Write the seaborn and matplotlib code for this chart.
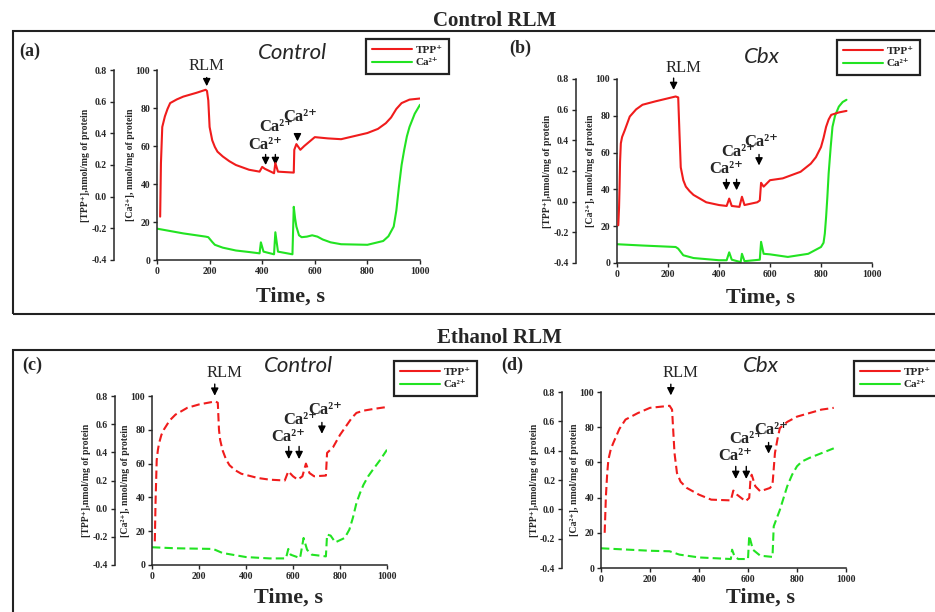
"""
plot.py

TPP+ and Ca2+ traces of control and ethanol RLM (control vs Cbx),
four panels with a second (TPP+) axis offset on the left of each.
"""

import matplotlib
matplotlib.use("Agg")
import matplotlib.pyplot as plt
import matplotlib.patches as mpatches
from matplotlib.lines import Line2D
from matplotlib.ticker import FormatStrFormatter
import pandas as pd
import seaborn as sns

# ---- values ----
# (a) control RLM, Control
A_TPP_T = [12, 15, 20, 30, 40, 50, 75, 100, 150, 185, 190, 195, 200, 210, 220, 230,
           250, 275, 300, 350, 390, 400, 410, 445, 450, 460, 520, 522, 530, 545,
           560, 600, 650, 700, 800, 840, 870, 890, 910, 930, 960, 1000]
A_TPP = [-0.126, 0.212, 0.44, 0.507, 0.554, 0.591, 0.614, 0.632, 0.656, 0.675,
         0.668, 0.608, 0.44, 0.356, 0.314, 0.284, 0.254, 0.224, 0.2, 0.17, 0.158,
         0.188, 0.176, 0.148, 0.212, 0.158, 0.152, 0.296, 0.332, 0.296, 0.32,
         0.376, 0.368, 0.363, 0.402, 0.428, 0.464, 0.5, 0.554, 0.591, 0.613, 0.62]
A_CA_T = [0, 100, 185, 195, 210, 220, 250, 300, 350, 390, 395, 405, 445, 450, 460,
          515, 520, 525, 530, 540, 550, 570, 590, 610, 630, 660, 700, 800, 860,
          880, 900, 910, 920, 930, 940, 950, 960, 980, 1000]
A_CA = [16.5, 14, 12.3, 12, 9.5, 8, 6.5, 5, 4.2, 3.5, 9.3, 4.4, 3, 14.6, 4.4, 3,
        28, 22, 17.6, 13, 12, 12.3, 13, 12.3, 10.8, 9.3, 8.3, 8, 10, 12.5, 17.6,
        26, 38.7, 50, 58, 65, 70, 77, 81.7]

# (b) control RLM, Cbx
B_TPP_T = [5, 8, 10, 12, 15, 20, 30, 50, 75, 100, 150, 200, 230, 240, 245, 250,
           260, 270, 285, 300, 350, 400, 430, 440, 450, 480, 490, 500, 550, 560,
           565, 575, 600, 650, 720, 760, 780, 800, 810, 820, 830, 840, 870, 900]
B_TPP = [-0.154, -0.04, 0.092, 0.26, 0.38, 0.422, 0.464, 0.555, 0.602, 0.632,
         0.654, 0.674, 0.686, 0.68, 0.446, 0.224, 0.14, 0.098, 0.068, 0.044,
         -0.004, -0.022, -0.028, 0.02, -0.028, -0.034, 0.032, -0.022, -0.004,
         0.008, 0.123, 0.098, 0.14, 0.152, 0.195, 0.248, 0.29, 0.356, 0.416,
         0.488, 0.536, 0.566, 0.582, 0.592]
B_CA_T = [0, 100, 230, 240, 260, 300, 400, 430, 440, 450, 485, 490, 500, 560, 565,
          575, 600, 670, 750, 800, 810, 815, 820, 825, 830, 838, 845, 855, 870,
          885, 900]
B_CA = [10.2, 9.5, 8.7, 7.8, 4.2, 2.7, 1.5, 1.5, 5.8, 1.8, 0.5, 5, 1, 1.8, 11.5,
        5, 4.7, 3.3, 5, 8.7, 11, 16, 25, 36, 48.7, 63, 74, 80, 85, 87.5, 88.7]

# (c) ethanol RLM, Control
C_TPP_T = [12, 15, 20, 25, 30, 40, 50, 75, 100, 150, 200, 270, 280, 285, 290, 300,
           315, 330, 355, 380, 450, 500, 565, 580, 600, 620, 640, 655, 670, 690,
           740, 745, 770, 800, 830, 850, 870, 900, 950, 1000]
C_TPP = [-0.232, 0.04, 0.344, 0.416, 0.464, 0.524, 0.56, 0.626, 0.668, 0.716,
         0.74, 0.762, 0.752, 0.56, 0.488, 0.416, 0.35, 0.308, 0.272, 0.248, 0.218,
         0.206, 0.2, 0.265, 0.23, 0.206, 0.23, 0.32, 0.253, 0.23, 0.235, 0.396,
         0.435, 0.524, 0.596, 0.644, 0.68, 0.696, 0.71, 0.722]
C_CA_T = [0, 100, 260, 300, 400, 500, 570, 580, 590, 630, 645, 660, 680, 740, 745,
          760, 780, 820, 840, 855, 870, 885, 900, 920, 940, 970, 1000]
C_CA = [10.5, 9.9, 9.5, 7.1, 4.7, 3.9, 3.9, 9.5, 6.1, 4.1, 16, 9, 6.1, 5.1, 18,
        17.4, 13.4, 16, 21, 28, 36.7, 42.5, 47.5, 52.5, 56.4, 62, 68.2]

# (d) ethanol RLM, Cbx
D_TPP_T = [15, 20, 25, 30, 40, 50, 75, 100, 150, 200, 280, 290, 300, 310, 325, 350,
           400, 450, 530, 540, 555, 590, 605, 610, 615, 630, 650, 690, 700, 710,
           720, 730, 760, 800, 900, 950]
D_TPP = [-0.16, 0.088, 0.236, 0.338, 0.41, 0.452, 0.548, 0.612, 0.656, 0.692,
         0.706, 0.68, 0.384, 0.248, 0.188, 0.146, 0.1, 0.066, 0.061, 0.128, 0.1,
         0.055, 0.078, 0.2, 0.236, 0.157, 0.123, 0.146, 0.168, 0.384, 0.476,
         0.554, 0.596, 0.632, 0.68, 0.692]
D_CA_T = [0, 200, 280, 320, 400, 530, 535, 545, 560, 600, 605, 620, 650, 700, 705,
          730, 760, 780, 800, 820, 850, 950]
D_CA = [11.2, 9.8, 9.5, 7.6, 6, 5.1, 10.4, 6.6, 5.1, 5.1, 18.4, 10.4, 7, 6.3,
        23.7, 33, 46.4, 53, 57.8, 60.5, 62.5, 68]

RED = "#f01c1c"
GREEN = "#22e322"
SERIF = ["Liberation Serif", "DejaVu Serif"]
W, H = 935, 612


def fx(px):
    return px / W


def fy(py):
    return 1 - py / H


# layout of each panel, in pixels of the 935x612 picture
PANELS = [
    dict(tpp_t=A_TPP_T, tpp=A_TPP, ca_t=A_CA_T, ca=A_CA, dashed=False,
         box=(157, 70, 420, 260), offset=31, tag="(a)", tag_xy=(30, 51),
         title="Control", title_xy=(292, 53), xlab_xy=(290, 297), leg_xy=(366, 39),
         rlm_text=(189, 102), rlm_arrow=(189, 97.5, 90),
         ca_text=[(410, 60.6), (455, 70), (543, 75.5)],
         ca_arrow=[(413, 57, 48.5), (450, 57, 48.5), (534, 68, 61)]),
    dict(tpp_t=B_TPP_T, tpp=B_TPP, ca_t=B_CA_T, ca=B_CA, dashed=False,
         box=(617, 79, 872, 263), offset=29.5, tag="(b)", tag_xy=(520, 48),
         title="Cbx", title_xy=(762, 57), xlab_xy=(761, 298), leg_xy=(837, 40),
         rlm_text=(259, 106), rlm_arrow=(222, 102, 92.5),
         ca_text=[(429, 51), (474, 60.5), (566, 66)],
         ca_arrow=[(429, 47, 38), (469, 47, 38), (557, 60.5, 51.5)]),
    dict(tpp_t=C_TPP_T, tpp=C_TPP, ca_t=C_CA_T, ca=C_CA, dashed=True,
         box=(152, 396, 387, 565), offset=27, tag="(c)", tag_xy=(32, 365),
         title="Control", title_xy=(298, 366), xlab_xy=(288, 598), leg_xy=(394, 361),
         rlm_text=(310, 113.6), rlm_arrow=(267, 108.7, 98.5),
         ca_text=[(580, 75.7), (630, 86), (737, 92)],
         ca_arrow=[(582, 71.8, 61), (626, 71.8, 61), (723, 86, 76)]),
    dict(tpp_t=D_TPP_T, tpp=D_TPP, ca_t=D_CA_T, ca=D_CA, dashed=True,
         box=(601, 392, 846, 568), offset=28, tag="(d)", tag_xy=(512, 365),
         title="Cbx", title_xy=(761, 366), xlab_xy=(761, 598), leg_xy=(854, 361),
         rlm_text=(323, 110.8), rlm_arrow=(285, 106, 96.5),
         ca_text=[(548, 63.4), (593, 73.3), (695, 78.6)],
         ca_arrow=[(550, 59.3, 49), (593, 59.3, 49), (684, 72.9, 63.4)]),
]


def draw_panel(fig, p):
    x0, y0, x1, y1 = p["box"]
    ax = fig.add_axes([fx(x0), fy(y1), fx(x1) - fx(x0), fy(y0) - fy(y1)])
    axt = ax.twinx()
    style = (0, (4, 2)) if p["dashed"] else "-"

    ca = pd.DataFrame({"time": p["ca_t"], "value": p["ca"]})
    tpp = pd.DataFrame({"time": p["tpp_t"], "value": p["tpp"]})
    sns.lineplot(data=ca, x="time", y="value", ax=ax, color=GREEN, lw=1.5,
                 estimator=None, sort=False, linestyle=style)
    sns.lineplot(data=tpp, x="time", y="value", ax=axt, color=RED, lw=1.5,
                 estimator=None, sort=False, linestyle=style)

    ax.set_xlim(0, 1000)
    ax.set_ylim(0, 100)
    axt.set_ylim(-0.4, 0.8)
    ax.set_xticks(range(0, 1001, 200))
    ax.set_yticks(range(0, 101, 20))
    axt.set_yticks([-0.4, -0.2, 0.0, 0.2, 0.4, 0.6, 0.8])
    axt.yaxis.set_major_formatter(FormatStrFormatter("%.1f"))

    for a in (ax, axt):
        for side in ("top", "right"):
            a.spines[side].set_visible(False)
        a.tick_params(length=3, width=1, pad=2, labelsize=7)
    axt.spines["bottom"].set_visible(False)
    axt.yaxis.tick_left()
    axt.yaxis.set_label_position("left")
    axt.spines["left"].set_visible(True)
    axt.spines["left"].set_position(("outward", p["offset"]))

    ax.set_xlabel("")
    ax.set_ylabel("[Ca²⁺], nmol/mg of protein", fontsize=7, labelpad=0)
    axt.set_ylabel("[TPP⁺],nmol/mg of protein", fontsize=7, labelpad=1)

    # additions: RLM and three Ca2+ pulses
    arrow = dict(arrowstyle="-|>", color="black", lw=1, mutation_scale=11)
    ax.text(*p["rlm_text"], "RLM", ha="center", va="center", fontsize=12,
            fontweight="normal")
    t, v0, v1 = p["rlm_arrow"]
    ax.annotate("", xy=(t, v1), xytext=(t, v0), arrowprops=arrow,
                annotation_clip=False)
    for tx, ty in p["ca_text"]:
        ax.text(tx, ty, "Ca²⁺", ha="center", va="center", fontsize=12)
    for t, v0, v1 in p["ca_arrow"]:
        ax.annotate("", xy=(t, v1), xytext=(t, v0), arrowprops=arrow,
                    annotation_clip=False)

    handles = [Line2D([], [], color=RED, lw=1.5), Line2D([], [], color=GREEN, lw=1.5)]
    leg = axt.legend(handles, ["TPP⁺", "Ca²⁺"],
                     loc="upper left", bbox_to_anchor=(fx(p["leg_xy"][0]), fy(p["leg_xy"][1])),
                     bbox_transform=fig.transFigure, fancybox=False, framealpha=1,
                     edgecolor="#222222", prop=dict(family=SERIF, weight="bold", size=8),
                     handlelength=3.6, handletextpad=0.3, labelspacing=0.25,
                     borderpad=0.55, borderaxespad=0)
    leg.get_frame().set_linewidth(1.6)

    fig.text(fx(p["tag_xy"][0]), fy(p["tag_xy"][1]), p["tag"], ha="center",
             va="center", fontsize=13)
    fig.text(fx(p["title_xy"][0]), fy(p["title_xy"][1]), p["title"], ha="center",
             va="center", fontsize=16, style="italic", fontweight="normal",
             family="Lato")
    fig.text(fx(p["xlab_xy"][0]), fy(p["xlab_xy"][1]), "Time, s", ha="center",
             va="center", fontsize=16)


def main() -> None:
    sns.set_style("ticks")
    plt.rcParams["font.family"] = SERIF
    plt.rcParams["font.weight"] = "bold"
    plt.rcParams["axes.labelweight"] = "bold"
    plt.rcParams["axes.linewidth"] = 1.1
    plt.rcParams["axes.unicode_minus"] = False

    fig = plt.figure(figsize=(W / 100, H / 100), dpi=100)

    # framed rows with their headings
    fig.add_artist(mpatches.Rectangle((fx(13), fy(314)), 1.0, fy(31) - fy(314),
                                      transform=fig.transFigure, fill=False,
                                      lw=1.5, ec="#222222"))
    fig.add_artist(mpatches.Rectangle((fx(13), -0.05), 1.0, fy(350) + 0.05,
                                      transform=fig.transFigure, fill=False,
                                      lw=1.5, ec="#222222"))
    fig.text(fx(495), fy(21), "Control RLM", ha="center", va="center", fontsize=15)
    fig.text(fx(499), fy(338), "Ethanol RLM", ha="center", va="center", fontsize=15)

    for p in PANELS:
        draw_panel(fig, p)

    fig.savefig("out.png", dpi=100)
    plt.close(fig)


if __name__ == "__main__":
    main()
